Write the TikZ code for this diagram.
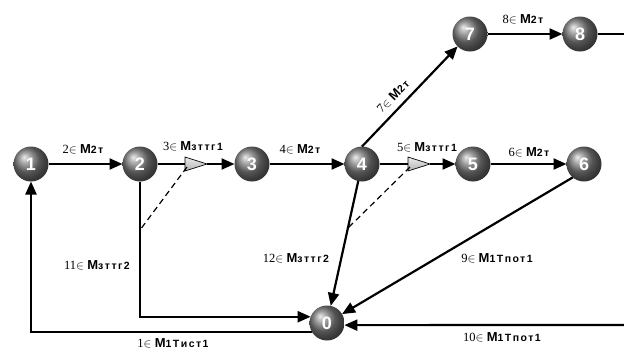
\documentclass[tikz,border=0pt]{standalone}
\usepackage{fontspec}
\setmainfont{Liberation Serif}
\newfontfamily\msans{Liberation Sans}
\newfontfamily\msub{Liberation Sans}[LetterSpace=14]
\usetikzlibrary{arrows.meta}
\newcommand\elab[2]{\fontsize{12.5}{13}\selectfont #1$\in$ {\msans\bfseries\fontsize{13}{13}\selectfont M}{\msub\bfseries\fontsize{10.5}{11}\selectfont #2}}
\tikzset{
  sph/.style={circle, shading=ball, ball color=gray!95!black, minimum size=35pt, inner sep=0pt, outer sep=0pt,
    text=white, font=\msans\bfseries\fontsize{18}{18}\selectfont},
  ln/.style={line width=2.2pt},
  arr/.style={line width=2.2pt, -{Triangle[length=13pt,width=11pt]}},
  dsh/.style={line width=1.2pt, dash pattern=on 6pt off 4pt},
  tri/.style={draw=black, line width=0.7pt, top color=gray!15, bottom color=gray!60},
  lbl/.style={inner sep=0pt}
}
\begin{document}
\begin{tikzpicture}[x=1pt,y=-1pt]
\useasboundingbox (0,0) rectangle (624,349);
% nodes
\node[sph] (1) at (31,164) {1};
\node[sph] (2) at (140,164) {2};
\node[sph] (3) at (252,164) {3};
\node[sph] (4) at (362,164) {4};
\node[sph] (5) at (473,164) {5};
\node[sph] (6) at (584,164) {6};
\node[sph] (7) at (470,34) {7};
\node[sph] (8) at (580,34) {8};
\node[sph] (0) at (327,323) {0};
% helper coordinates
\coordinate (t1l) at (185,164);
\coordinate (t1a) at (207,164);
\coordinate (t2l) at (408,164);
\coordinate (t2a) at (430,164);
\coordinate (d1a) at (187,167);
\coordinate (d1b) at (140,230);
\coordinate (d2a) at (410,167);
\coordinate (d2b) at (348,228);
\coordinate (r8) at (624,34);
\coordinate (r10) at (624,325);
% connectors
\draw[arr] (1) -- (2);
\draw[ln] (2) -- (t1l);
\draw[arr] (t1a) -- (3);
\draw[arr] (3) -- (4);
\draw[ln] (4) -- (t2l);
\draw[arr] (t2a) -- (5);
\draw[arr] (5) -- (6);
\draw[arr] (4.north) -- (7.225);
\draw[arr] (7) -- (8);
\draw[ln] (8) -- (r8);
\draw[arr] (r10) -- (0.-7);
\draw[arr] (6.230) -- (0);
\draw[arr] (4) -- (0);
\draw[arr] (2) |- (0.159);
\draw[arr] (0.212) -| (1);
% triangles
\draw[tri] (t1l) ++(0,-7) -- (t1a) -- ++(-22,7) -- cycle;
\draw[tri] (t2l) ++(0,-7) -- (t2a) -- ++(-22,7) -- cycle;
% dashed
\draw[dsh] (d1a) -- (d1b);
\draw[dsh] (d2a) -- (d2b);
% labels
\node[lbl] (l2) at (83,149) {\elab{2}{2т}};
\node[lbl] (l3) at (193,146) {\elab{3}{зттг1}};
\node[lbl] (l4) at (300,149) {\elab{4}{2т}};
\node[lbl] (l5) at (427,147) {\elab{5}{зттг1}};
\node[lbl] (l6) at (529,152) {\elab{6}{2т}};
\node[lbl, rotate=46] (l7) at (393,96) {\elab{7}{2т}};
\node[lbl] (l8) at (523,19) {\elab{8}{2т}};
\node[lbl] (l9) at (497,258) {\elab{9}{1Tпот1}};
\node[lbl] (l10) at (502,337) {\elab{10}{1Tпот1}};
\node[lbl] (l11) at (97,265) {\elab{11}{зттг2}};
\node[lbl] (l12) at (296,258) {\elab{12}{зттг2}};
\node[lbl] (l1) at (173,343) {\elab{1}{1Tист1}};
\end{tikzpicture}
\end{document}
